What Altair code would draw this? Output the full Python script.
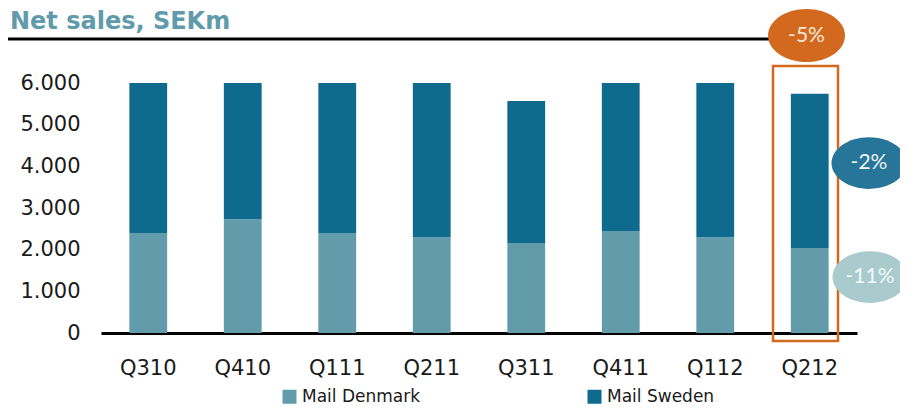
import altair as alt
import pandas as pd

quarters = ["Q310", "Q410", "Q111", "Q211", "Q311", "Q411", "Q112", "Q212"]
denmark = [2400, 2730, 2400, 2300, 2160, 2450, 2300, 2040]
sweden = [3600, 3270, 3600, 3700, 3410, 3550, 3700, 3700]
series = ["Mail Denmark", "Mail Sweden"]
colors = ["#629cab", "#0e6b8e"]
y_ticks = [0, 1000, 2000, 3000, 4000, 5000, 6000]
badges = ["-5%", "-2%", "-11%"]

rows = []
for i, q in enumerate(quarters):
    rows.append({"quarter": q, "series": series[0], "value": denmark[i], "idx": 0})
    rows.append({"quarter": q, "series": series[1], "value": sweden[i], "idx": 1})
df = pd.DataFrame(rows)

FONT = "DejaVu Sans"
W, H = 756, 250

bars = alt.Chart(df).mark_bar().encode(
    x=alt.X("quarter:N", sort=quarters, title=None,
            scale=alt.Scale(paddingInner=0.6, paddingOuter=0.3),
            axis=alt.Axis(labelAngle=0, labelFontSize=21, labelColor="#1a1a1a",
                          labelFont=FONT, domainColor="black", domainWidth=3,
                          ticks=False, labelPadding=24, grid=False)),
    y=alt.Y("value:Q", stack="zero", title=None,
            scale=alt.Scale(domain=[0, 6000], nice=False),
            axis=alt.Axis(values=y_ticks, domain=False, ticks=False, grid=False,
                          labelFontSize=21, labelColor="#1a1a1a", labelFont=FONT,
                          labelPadding=21,
                          labelExpr="replace(format(datum.value, ','), ',', '.')")),
    color=alt.Color("series:N", scale=alt.Scale(domain=series, range=colors),
                    legend=alt.Legend(title=None, orient="none", legendX=180, legendY=305,
                                      direction="horizontal", symbolType="square",
                                      symbolSize=196, symbolStrokeWidth=0,
                                      labelFontSize=17, labelFont=FONT,
                                      labelColor="#1a1a1a", columnPadding=165,
                                      labelOffset=4)),
    order=alt.Order("idx:Q", sort="ascending"),
)

one = pd.DataFrame({"a": [0]})

title = alt.Chart(one).mark_text(
    text="Net sales, SEKm", font="DejaVu Sans", fontWeight="bold", fontSize=24,
    color="#5f9bab", align="left", baseline="alphabetic"
).encode(x=alt.value(-91), y=alt.value(-54))

header_rule = alt.Chart(one).mark_rule(color="black", strokeWidth=3).encode(
    x=alt.value(-96), x2=alt.value(700), y=alt.value(-44))

frame = alt.Chart(one).mark_rect(fill=None, stroke="#d2691f", strokeWidth=2.5).encode(
    x=alt.value(672), x2=alt.value(737), y=alt.value(-17), y2=alt.value(258))

ELLIPSE = "M-1,0A1,0.69,0,1,1,1,0A1,0.69,0,1,1,-1,0Z"


def badge(label, cx, cy, w, fill, tcolor):
    e = alt.Chart(one).mark_point(shape=ELLIPSE, filled=True, fill=fill, opacity=1,
                                  strokeWidth=0, size=w * w).encode(
        x=alt.value(cx), y=alt.value(cy))
    t = alt.Chart(one).mark_text(text=label, font="Lato", fontSize=21, color=tcolor,
                                 align="center", baseline="middle").encode(
        x=alt.value(cx), y=alt.value(cy))
    return [e, t]


layers = [bars, title, header_rule, frame]
layers += badge(badges[0], 705.5, -47.5, 77, "#d3691f", "#f7e9de")
layers += badge(badges[1], 768, 80, 75, "#277598", "#eef4f7")
layers += badge(badges[2], 769, 194, 75, "#a9cbcd", "#f4f9f9")

chart = alt.layer(*layers).properties(
    width=W, height=H,
    autosize=alt.AutoSizeParams(type="none"),
    padding={"left": 93, "top": 75, "right": 43, "bottom": 75},
    background="white",
).configure_view(stroke=None)

chart.save("out.html", embed_options={"renderer": "svg", "actions": False})
